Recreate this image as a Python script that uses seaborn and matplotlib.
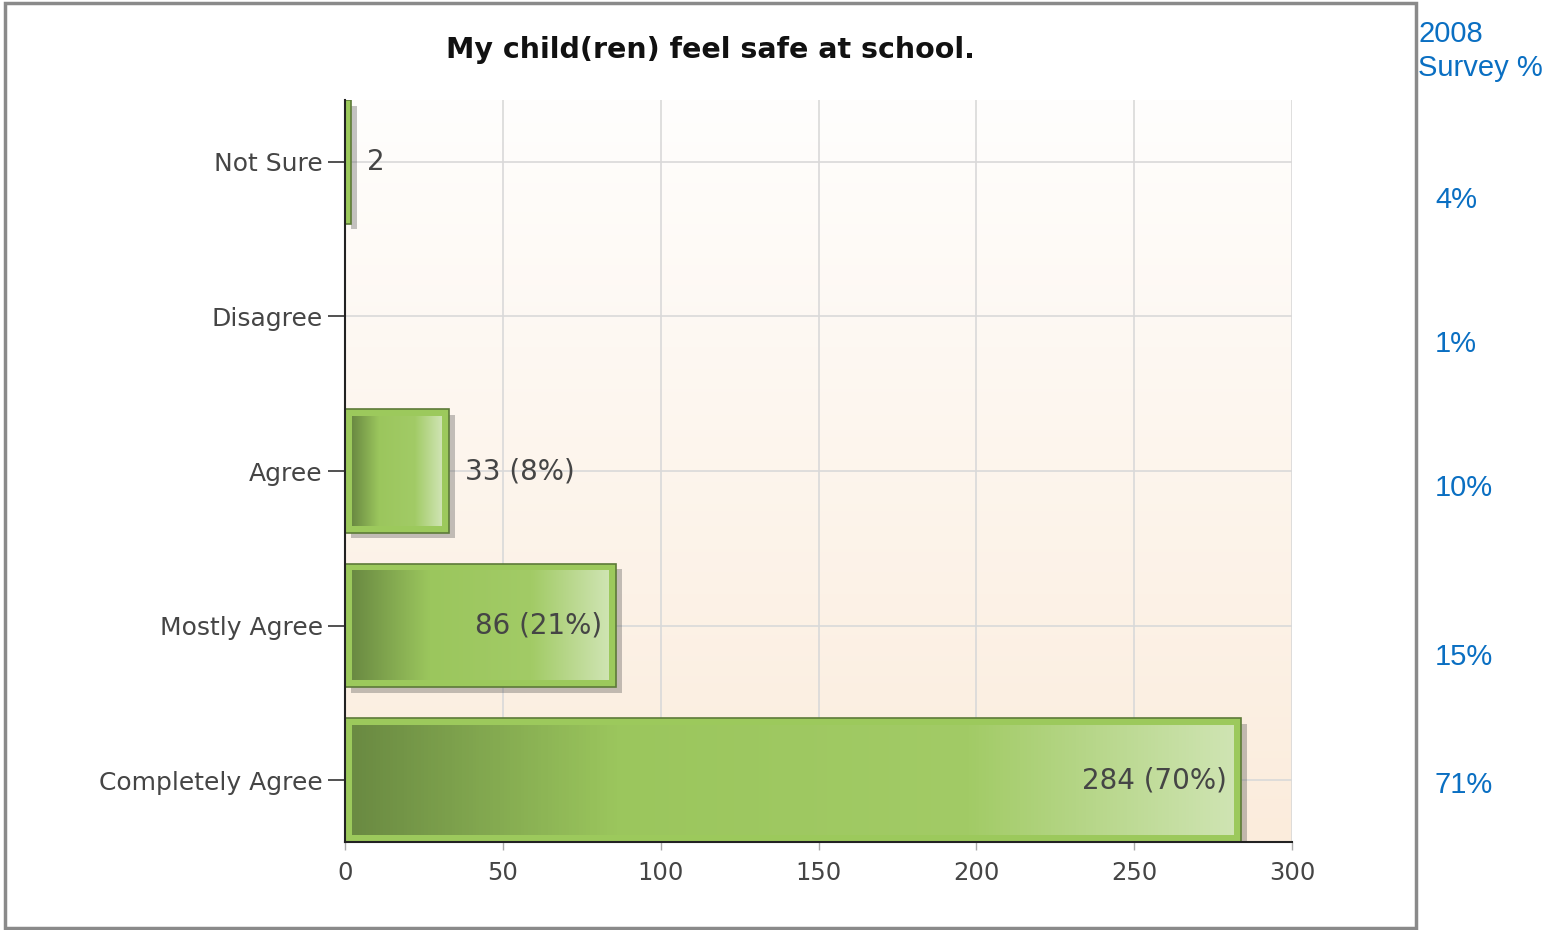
#%% import libraries
import numpy as np
import seaborn as sns
import matplotlib
import matplotlib.pyplot as plt
import matplotlib.patheffects as pe
from matplotlib.colors import LinearSegmentedColormap

#%% data
categories = ['Not Sure', 'Disagree', 'Agree', 'Mostly Agree', 'Completely Agree']
counts = [2, 0, 33, 86, 284]
bar_labels = ['2', '', '33 (8%)', '86 (21%)', '284 (70%)']
label_inside = [False, False, False, True, True]
survey_2008 = ['4%', '1%', '10%', '15%', '71%']
survey_y = [200, 344, 488, 657, 785]  # pixel rows of the right-hand column

#%% plot setup
sns.set_style('white')
plt.rcParams['font.family'] = ['DejaVu Sans']
text_grey = '#454545'
blue = '#0a6fc2'

bar_cmap = LinearSegmentedColormap.from_list('bar', [(0, '#6a8a42'), (0.3, '#9bc65d'),
                                                     (0.7, '#a2cb66'), (1, '#cfe4b3')])
bg_cmap = LinearSegmentedColormap.from_list('bg', ['#fbecdc', '#fffefd'])

fig = plt.figure(figsize=(15.43, 9.30), dpi=100)
ax = fig.add_axes([345 / 1543, 1 - 842 / 930, 947 / 1543, 742 / 930])

sns.barplot(x=counts, y=categories, orient='h', ax=ax, width=0.8,
            color='#9cc95c', edgecolor='#5d7a38', linewidth=1.2, saturation=1)

# background gradient
grad = np.linspace(0, 1, 256).reshape(-1, 1)
ax.imshow(grad, extent=[0, 1, 0, 1], transform=ax.transAxes, aspect='auto',
          cmap=bg_cmap, zorder=0.1, origin='lower')

# bar shading
hgrad = np.linspace(0, 1, 256).reshape(1, -1)
dx, dy = 2.3, 0.045
for p in ax.patches:
    p.set_zorder(2)
    p.set_path_effects([pe.SimplePatchShadow(offset=(4, -4), alpha=0.35, shadow_rgbFace='#555555'),
                        pe.Normal()])
    x0, y0, w, h = p.get_x(), p.get_y(), p.get_width(), p.get_height()
    if w > 3 * dx:
        ax.imshow(hgrad, extent=[x0 + dx, x0 + w - dx, y0 + h - dy, y0 + dy],
                  aspect='auto', cmap=bar_cmap, zorder=2.5)
ax.set_xlim(0, 300)
ax.set_ylim(4.4, -0.4)

# labels
for i, (c, lab) in enumerate(zip(counts, bar_labels)):
    if not lab:
        continue
    if label_inside[i]:
        ax.text(c - 4.5, i, lab, ha='right', va='center', fontsize=20, color=text_grey, zorder=5)
    else:
        ax.text(c + 5, i, lab, ha='left', va='center', fontsize=20, color=text_grey, zorder=5)

# grid and spines
ax.set_axisbelow(True)
ax.grid(True, color='#d9d9d9', linewidth=1.2)
ax.set_xticks([0, 50, 100, 150, 200, 250, 300])
for s in ['top', 'right']:
    ax.spines[s].set_visible(False)
for s in ['left', 'bottom']:
    ax.spines[s].set_color('#222222')
    ax.spines[s].set_linewidth(1.5)
ax.tick_params(axis='y', length=12, width=1.2, color='#333333', labelsize=18,
               labelcolor=text_grey, left=True, pad=4)
ax.tick_params(axis='x', length=6, width=1, color='#aaaaaa', labelsize=17.5,
               labelcolor=text_grey, bottom=True, pad=8)
ax.set_xlabel(None)
ax.set_ylabel(None)

# title
fig.text(710 / 1543, 1 - 50 / 930, 'My child(ren) feel safe at school.', ha='center', va='center',
         fontsize=20.5, fontweight='bold', color='#111111')

# 2008 survey column
fig.text(1418 / 1543, 1 - 51 / 930, '2008\nSurvey %', ha='left', va='center', fontsize=21,
         color=blue, family=['Liberation Sans'], linespacing=1.25)
for lab, y in zip(survey_2008, survey_y):
    fig.text(1435 / 1543, 1 - y / 930, lab, ha='left', va='center', fontsize=21,
             color=blue, family=['Liberation Sans'])

# frame
frame = matplotlib.patches.Rectangle((5 / 1543, 2 / 930), 1411 / 1543, 925 / 930,
                                     transform=fig.transFigure, fill=False,
                                     edgecolor='#8a8a8a', linewidth=2.5)
fig.patches.append(frame)

plt.savefig('out.png', dpi=100)
